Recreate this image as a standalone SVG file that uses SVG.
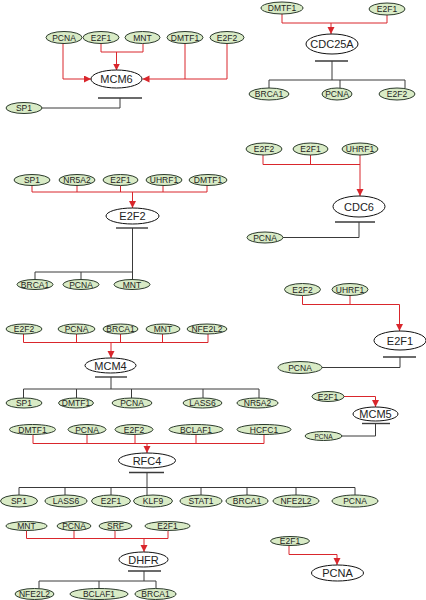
<svg xmlns="http://www.w3.org/2000/svg" width="426" height="600" viewBox="0 0 426 600">
<style>
.bg{fill:#fff}
.s ellipse{fill:#d9ebc6;stroke:#2b3a2b;stroke-width:1}
.s text{font-family:"Liberation Sans",Arial,sans-serif;font-size:8.5px;fill:#222;text-anchor:middle;dominant-baseline:central}
.t ellipse{fill:#fff;stroke:#111;stroke-width:1}
.t text{font-family:"Liberation Sans",Arial,sans-serif;font-size:11px;fill:#222;text-anchor:middle;dominant-baseline:central}
.act{fill:none;stroke:#d9262c;stroke-width:1}
.inh{fill:none;stroke:#3a3a3a;stroke-width:1}
.bar{fill:none;stroke:#3a3a3a;stroke-width:1.4}
</style>
<defs>
<marker id="arr" markerUnits="userSpaceOnUse" markerWidth="8" markerHeight="8" refX="7" refY="3.5" orient="auto">
<path d="M0,0 L7,3.5 L0,7 z" fill="#d9262c"/>
</marker>
</defs>
<rect class="bg" width="426" height="600"/>
<g id="connectors">
<!-- MCM6 -->
<path class="act" d="M63,43.5 V79 H91" marker-end="url(#arr)"/>
<path class="act" d="M101,43.5 V52 H143 V43.5"/>
<path class="act" d="M116.5,52 V70.5" marker-end="url(#arr)"/>
<path class="act" d="M227,43.5 V79 H142.5" marker-end="url(#arr)"/>
<path class="act" d="M185,43.5 V79"/>
<path class="bar" d="M98,98 H142"/>
<path class="inh" d="M120,98 V108 H42"/>
<!-- CDC25A -->
<path class="act" d="M282,14 V23 H387 V15"/>
<path class="act" d="M331,23 V34" marker-end="url(#arr)"/>
<path class="bar" d="M315,61 H348"/>
<path class="inh" d="M332,61 V80 M269,80 H405 M269,80 V88 M340,80 V88 M405,80 V88"/>
<!-- E2F2 -->
<path class="act" d="M32,185.5 V192 H207 V185.5 M77,185.5 V192 M120.5,185.5 V192 M163,185.5 V192"/>
<path class="act" d="M132.5,192 V208" marker-end="url(#arr)"/>
<path class="bar" d="M116,228 H148"/>
<path class="inh" d="M132.5,228 V279 M132.5,272 H35 V279 M81,272 V279"/>
<!-- CDC6 -->
<path class="act" d="M263,155 V164.5 H360 M310.5,155 V164.5"/>
<path class="act" d="M360,155 V196" marker-end="url(#arr)"/>
<path class="bar" d="M335,222 H375"/>
<path class="inh" d="M359,222 V237.5 H283"/>
<!-- E2F1 -->
<path class="act" d="M350,295.5 V304.5"/>
<path class="act" d="M302.5,295.5 V304.5 H399.5 V331" marker-end="url(#arr)"/>
<path class="bar" d="M383,357 H416"/>
<path class="inh" d="M400,357 V367.5 H322"/>
<!-- MCM5 -->
<path class="act" d="M344,396.5 H375.5 V407" marker-end="url(#arr)"/>
<path class="bar" d="M362,423.5 H390"/>
<path class="inh" d="M375.5,423.5 V436 H342"/>
<!-- MCM4 -->
<path class="act" d="M23.5,334 V342.5 H208 V334 M76.5,334 V342.5 M120.5,334 V342.5 M162.5,334 V342.5"/>
<path class="act" d="M111,342.5 V358" marker-end="url(#arr)"/>
<path class="bar" d="M95,377 H127"/>
<path class="inh" d="M111,377 V389 M23.5,389 H259 M23.5,389 V398 M76.5,389 V398 M131.5,389 V398 M203,389 V398 M259,389 V398"/>
<!-- RFC4 -->
<path class="act" d="M33,434.5 V443.5 H264 V434.5 M87,434.5 V443.5 M135,434.5 V443.5 M196,434.5 V443.5"/>
<path class="act" d="M147,443.5 V453" marker-end="url(#arr)"/>
<path class="bar" d="M129,472.5 H164"/>
<path class="inh" d="M147,472.5 V495 M19,487.5 H355 M19,487.5 V495 M65,487.5 V495 M111,487.5 V495 M201,487.5 V495 M247,487.5 V495 M296,487.5 V495 M355,487.5 V495"/>
<!-- DHFR -->
<path class="act" d="M26.5,530.5 V538.5 H168 V530.5 M74,530.5 V538.5 M115,530.5 V538.5"/>
<path class="act" d="M144,538.5 V552" marker-end="url(#arr)"/>
<path class="bar" d="M128,571 H161"/>
<path class="inh" d="M144,571 V581 M39,581 H156 M39,581 V588.5 M99,581 V588.5 M156,581 V588.5"/>
<!-- PCNA -->
<path class="act" d="M289,546 V554.5 H337 V565" marker-end="url(#arr)"/>
</g>
<!-- MCM6 block -->
<g id="mcm6" class="t"><ellipse cx="116.5" cy="79" rx="25.5" ry="9"/><text x="116.5" y="79">MCM6</text></g>
<g id="mcm6-pcna" class="s"><ellipse cx="64" cy="37.5" rx="18" ry="6"/><text x="64" y="37.5">PCNA</text></g>
<g id="mcm6-e2f1" class="s"><ellipse cx="101" cy="37.5" rx="18" ry="6"/><text x="101" y="37.5">E2F1</text></g>
<g id="mcm6-mnt" class="s"><ellipse cx="142.5" cy="37.5" rx="17.5" ry="6"/><text x="142.5" y="37.5">MNT</text></g>
<g id="mcm6-dmtf1" class="s"><ellipse cx="185" cy="37.5" rx="18" ry="6"/><text x="185" y="37.5">DMTF1</text></g>
<g id="mcm6-e2f2" class="s"><ellipse cx="227" cy="37.5" rx="17" ry="6"/><text x="227" y="37.5">E2F2</text></g>
<g id="mcm6-sp1" class="s"><ellipse cx="24" cy="108" rx="18" ry="5.5"/><text x="24" y="108">SP1</text></g>
<!-- CDC25A block -->
<g id="cdc25a" class="t"><ellipse cx="332" cy="44" rx="26" ry="10"/><text x="332" y="44">CDC25A</text></g>
<g id="cdc25a-dmtf1" class="s"><ellipse cx="282" cy="8" rx="21" ry="6"/><text x="282" y="8">DMTF1</text></g>
<g id="cdc25a-e2f1" class="s"><ellipse cx="387" cy="9" rx="18" ry="6"/><text x="387" y="9">E2F1</text></g>
<g id="cdc25a-brca1" class="s"><ellipse cx="269" cy="94" rx="20" ry="6"/><text x="269" y="94">BRCA1</text></g>
<g id="cdc25a-pcna" class="s"><ellipse cx="337" cy="94" rx="15" ry="6"/><text x="337" y="94">PCNA</text></g>
<g id="cdc25a-e2f2" class="s"><ellipse cx="397" cy="94" rx="18" ry="6"/><text x="397" y="94">E2F2</text></g>
<!-- E2F2 block -->
<g id="e2f2" class="t"><ellipse cx="132.5" cy="216" rx="26.5" ry="8"/><text x="132.5" y="216">E2F2</text></g>
<g id="e2f2-sp1" class="s"><ellipse cx="32" cy="180" rx="18" ry="5.5"/><text x="32" y="180">SP1</text></g>
<g id="e2f2-nr5a2" class="s"><ellipse cx="77" cy="180" rx="18" ry="5.5"/><text x="77" y="180">NR5A2</text></g>
<g id="e2f2-e2f1" class="s"><ellipse cx="120.5" cy="180" rx="17.5" ry="5.5"/><text x="120.5" y="180">E2F1</text></g>
<g id="e2f2-uhrf1" class="s"><ellipse cx="164" cy="180" rx="18" ry="5.5"/><text x="164" y="180">UHRF1</text></g>
<g id="e2f2-dmtf1" class="s"><ellipse cx="208" cy="180" rx="19" ry="5.5"/><text x="208" y="180">DMTF1</text></g>
<g id="e2f2-brca1" class="s"><ellipse cx="35" cy="284.5" rx="18" ry="5"/><text x="35" y="284.5">BRCA1</text></g>
<g id="e2f2-pcna" class="s"><ellipse cx="81" cy="284.5" rx="18" ry="5"/><text x="81" y="284.5">PCNA</text></g>
<g id="e2f2-mnt" class="s"><ellipse cx="132" cy="284.5" rx="18" ry="5"/><text x="132" y="284.5">MNT</text></g>
<!-- CDC6 block -->
<g id="cdc6" class="t"><ellipse cx="359" cy="206.5" rx="26" ry="10.5"/><text x="359" y="206.5">CDC6</text></g>
<g id="cdc6-e2f2" class="s"><ellipse cx="264" cy="149" rx="18" ry="6"/><text x="264" y="149">E2F2</text></g>
<g id="cdc6-e2f1" class="s"><ellipse cx="310.5" cy="149" rx="17.5" ry="6"/><text x="310.5" y="149">E2F1</text></g>
<g id="cdc6-uhrf1" class="s"><ellipse cx="360" cy="149" rx="18" ry="6"/><text x="360" y="149">UHRF1</text></g>
<g id="cdc6-pcna" class="s"><ellipse cx="265" cy="237.5" rx="18" ry="5.5"/><text x="265" y="237.5">PCNA</text></g>
<!-- E2F1 block -->
<g id="e2f1" class="t"><ellipse cx="400" cy="340.5" rx="26" ry="9.5"/><text x="400" y="340.5">E2F1</text></g>
<g id="e2f1-e2f2" class="s"><ellipse cx="302.5" cy="289.5" rx="18" ry="6"/><text x="302.5" y="289.5">E2F2</text></g>
<g id="e2f1-uhrf1" class="s"><ellipse cx="350" cy="289.5" rx="18" ry="6"/><text x="350" y="289.5">UHRF1</text></g>
<g id="e2f1-pcna" class="s"><ellipse cx="300" cy="367.5" rx="22" ry="6"/><text x="300" y="367.5">PCNA</text></g>
<!-- MCM5 block -->
<g id="mcm5" class="t"><ellipse cx="375.5" cy="414" rx="22.5" ry="7"/><text x="375.5" y="414">MCM5</text></g>
<g id="mcm5-e2f1" class="s"><ellipse cx="328" cy="396.5" rx="16" ry="5"/><text x="328" y="396.5">E2F1</text></g>
<g id="mcm5-pcna" class="s"><ellipse cx="323.5" cy="436" rx="18.5" ry="4.5"/><text x="323.5" y="436" style="font-size:6.5px">PCNA</text></g>
<!-- MCM4 block -->
<g id="mcm4" class="t"><ellipse cx="110.5" cy="365.5" rx="25.5" ry="7.5"/><text x="110.5" y="365.5">MCM4</text></g>
<g id="mcm4-e2f2" class="s"><ellipse cx="24" cy="329" rx="18" ry="5"/><text x="24" y="329">E2F2</text></g>
<g id="mcm4-pcna" class="s"><ellipse cx="76.5" cy="329" rx="18.5" ry="5"/><text x="76.5" y="329">PCNA</text></g>
<g id="mcm4-brca1" class="s"><ellipse cx="120.5" cy="329" rx="17.5" ry="5"/><text x="120.5" y="329">BRCA1</text></g>
<g id="mcm4-mnt" class="s"><ellipse cx="163" cy="329" rx="17" ry="5"/><text x="163" y="329">MNT</text></g>
<g id="mcm4-nfe2l2" class="s"><ellipse cx="207" cy="329" rx="20" ry="5"/><text x="207" y="329">NFE2L2</text></g>
<g id="mcm4-sp1" class="s"><ellipse cx="24" cy="403" rx="18" ry="5"/><text x="24" y="403">SP1</text></g>
<g id="mcm4-dmtf1" class="s"><ellipse cx="76" cy="403" rx="17.5" ry="5"/><text x="76" y="403">DMTF1</text></g>
<g id="mcm4-pcna2" class="s"><ellipse cx="132" cy="403" rx="20" ry="5"/><text x="132" y="403">PCNA</text></g>
<g id="mcm4-lass6" class="s"><ellipse cx="202.5" cy="403" rx="19.5" ry="5"/><text x="202.5" y="403">LASS6</text></g>
<g id="mcm4-nr5a2" class="s"><ellipse cx="257.5" cy="403" rx="20.5" ry="5"/><text x="257.5" y="403">NR5A2</text></g>
<!-- RFC4 block -->
<g id="rfc4" class="t"><ellipse cx="147" cy="460.5" rx="28.5" ry="7.5"/><text x="147" y="460.5">RFC4</text></g>
<g id="rfc4-dmtf1" class="s"><ellipse cx="32.5" cy="429.5" rx="23" ry="5"/><text x="32.5" y="429.5">DMTF1</text></g>
<g id="rfc4-pcna" class="s"><ellipse cx="87" cy="429.5" rx="19" ry="5"/><text x="87" y="429.5">PCNA</text></g>
<g id="rfc4-e2f2" class="s"><ellipse cx="134" cy="429.5" rx="19" ry="5"/><text x="134" y="429.5">E2F2</text></g>
<g id="rfc4-bclaf1" class="s"><ellipse cx="196" cy="429.5" rx="27" ry="5"/><text x="196" y="429.5">BCLAF1</text></g>
<g id="rfc4-hcfc1" class="s"><ellipse cx="264" cy="429.5" rx="27" ry="5"/><text x="264" y="429.5">HCFC1</text></g>
<g id="rfc4-sp1" class="s"><ellipse cx="19" cy="501" rx="18.5" ry="6"/><text x="19" y="501">SP1</text></g>
<g id="rfc4-lass6" class="s"><ellipse cx="66" cy="501" rx="21" ry="6"/><text x="66" y="501">LASS6</text></g>
<g id="rfc4-e2f1" class="s"><ellipse cx="111" cy="501" rx="19.5" ry="6"/><text x="111" y="501">E2F1</text></g>
<g id="rfc4-klf9" class="s"><ellipse cx="153" cy="501" rx="19.5" ry="6"/><text x="153" y="501">KLF9</text></g>
<g id="rfc4-stat1" class="s"><ellipse cx="201" cy="501" rx="21" ry="6"/><text x="201" y="501">STAT1</text></g>
<g id="rfc4-brca1" class="s"><ellipse cx="247" cy="501" rx="21" ry="6"/><text x="247" y="501">BRCA1</text></g>
<g id="rfc4-nfe2l2" class="s"><ellipse cx="296" cy="501" rx="23" ry="6"/><text x="296" y="501">NFE2L2</text></g>
<g id="rfc4-pcna2" class="s"><ellipse cx="355" cy="501" rx="23" ry="6"/><text x="355" y="501">PCNA</text></g>
<!-- DHFR block -->
<g id="dhfr" class="t"><ellipse cx="143.5" cy="559.5" rx="24.5" ry="7.5"/><text x="143.5" y="559.5">DHFR</text></g>
<g id="dhfr-mnt" class="s"><ellipse cx="26.5" cy="526" rx="20.5" ry="4.5"/><text x="26.5" y="526">MNT</text></g>
<g id="dhfr-pcna" class="s"><ellipse cx="74" cy="526" rx="17" ry="4.5"/><text x="74" y="526">PCNA</text></g>
<g id="dhfr-srf" class="s"><ellipse cx="115.5" cy="526" rx="16.5" ry="4.5"/><text x="115.5" y="526">SRF</text></g>
<g id="dhfr-e2f1" class="s"><ellipse cx="167.5" cy="526" rx="22.5" ry="4.5"/><text x="167.5" y="526">E2F1</text></g>
<g id="dhfr-nfe2l2" class="s"><ellipse cx="34.5" cy="594" rx="19.5" ry="5.5"/><text x="34.5" y="594">NFE2L2</text></g>
<g id="dhfr-bclaf1" class="s"><ellipse cx="99" cy="594" rx="29" ry="5.5"/><text x="99" y="594">BCLAF1</text></g>
<g id="dhfr-brca1" class="s"><ellipse cx="155.5" cy="594" rx="20.5" ry="5.5"/><text x="155.5" y="594">BRCA1</text></g>
<!-- PCNA block -->
<g id="pcna" class="t"><ellipse cx="337.5" cy="573" rx="26" ry="8"/><text x="337.5" y="573">PCNA</text></g>
<g id="pcna-e2f1" class="s"><ellipse cx="290" cy="541" rx="19.5" ry="4.5"/><text x="290" y="541">E2F1</text></g>
</svg>
